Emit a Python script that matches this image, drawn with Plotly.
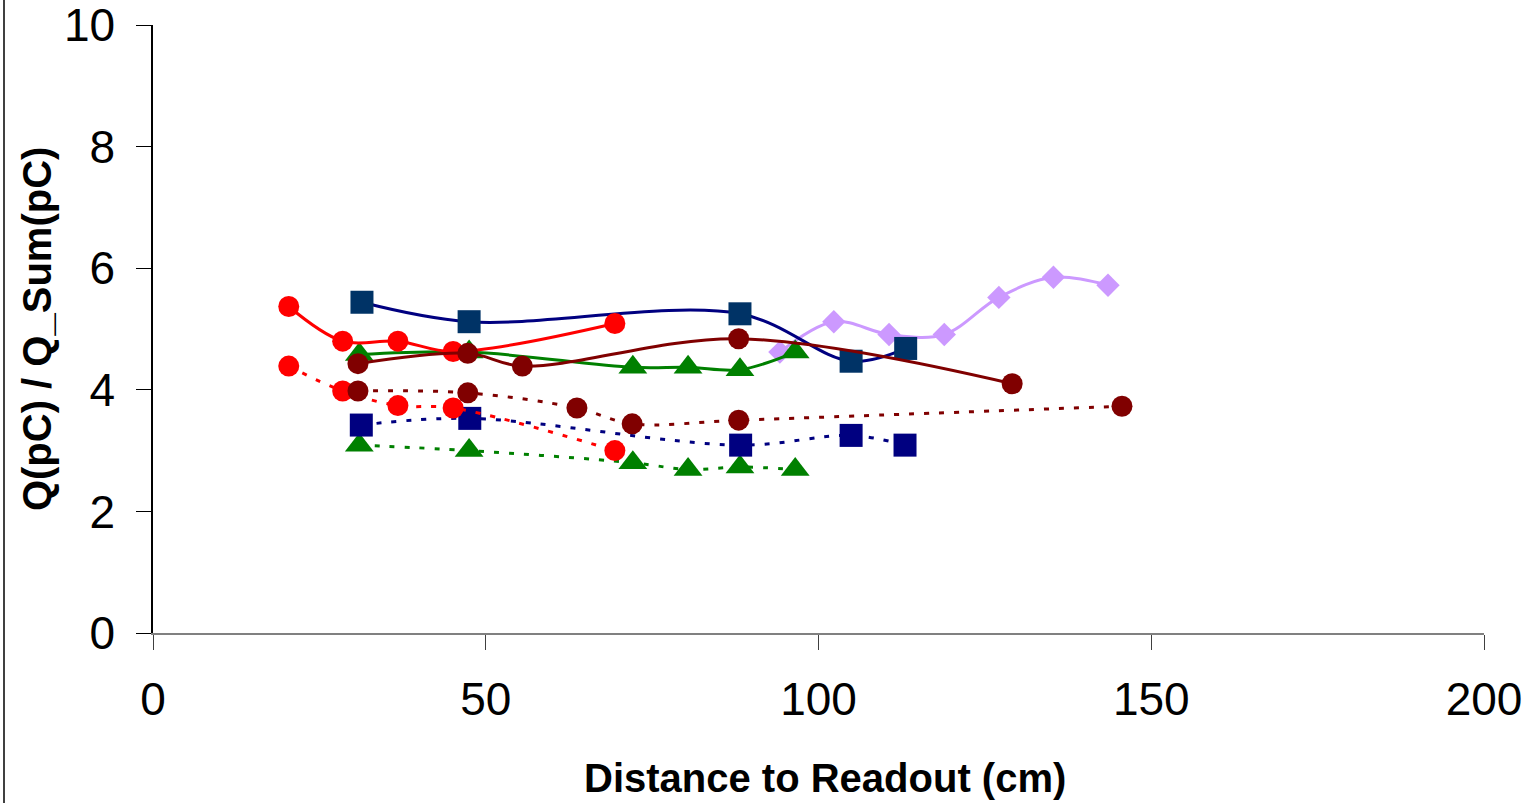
import plotly.graph_objects as go

# ---- data ----
blue_solid_x = [31.4, 47.5, 88.2, 104.9, 113.1]
blue_solid_y = [5.44, 5.12, 5.25, 4.47, 4.68]

red_solid_x = [20.4, 28.5, 36.8, 45.1, 69.4]
red_solid_y = [5.37, 4.80, 4.80, 4.63, 5.09]

green_solid_x = [31.0, 47.5, 72.1, 80.4, 88.2, 96.5]
green_solid_y = [4.58, 4.62, 4.37, 4.37, 4.33, 4.62]

maroon_solid_x = [30.8, 47.3, 55.5, 88.0, 129.1]
maroon_solid_y = [4.43, 4.60, 4.39, 4.84, 4.10]

pink_x = [94.2, 102.3, 110.6, 118.9, 127.1, 135.3, 143.5]
pink_y = [4.62, 5.12, 4.91, 4.91, 5.52, 5.85, 5.72]

red_dot_x = [20.4, 28.5, 36.8, 45.1, 69.4]
red_dot_y = [4.39, 3.98, 3.74, 3.70, 3.00]

maroon_dot_x = [30.8, 47.3, 63.7, 72.0, 88.0, 145.6]
maroon_dot_y = [3.98, 3.95, 3.70, 3.44, 3.50, 3.73]

blue_dot_x = [31.3, 47.6, 88.3, 104.9, 113.0]
blue_dot_y = [3.42, 3.53, 3.09, 3.25, 3.09]

green_dot_x = [31.0, 47.5, 72.1, 80.4, 88.2, 96.5]
green_dot_y = [3.09, 3.00, 2.80, 2.69, 2.73, 2.69]

x_ticks = [0, 50, 100, 150, 200]
y_ticks = [0, 2, 4, 6, 8, 10]

FONT = "Liberation Sans, Arial, sans-serif"
DOT = "5px,10px"

fig = go.Figure()


def add(x, y, line_color, marker_color, symbol, size, dash="solid"):
    fig.add_trace(go.Scatter(
        x=x, y=y, mode="lines+markers",
        line=dict(color=line_color, width=3, dash=dash, shape="spline", smoothing=1),
        marker=dict(color=marker_color, symbol=symbol, size=size, line=dict(width=0)),
        showlegend=False, hoverinfo="x+y",
    ))


add(pink_x, pink_y, "#CC99FF", "#CC99FF", "diamond", 18)
add(green_dot_x, green_dot_y, "#008000", "#008000", "triangle-up", 25, DOT)
add(blue_dot_x, blue_dot_y, "#000080", "#000080", "square", 23, DOT)
add(red_dot_x, red_dot_y, "#FF0000", "#FF0000", "circle", 21, DOT)
add(maroon_dot_x, maroon_dot_y, "#800000", "#800000", "circle", 21, DOT)
add(green_solid_x, green_solid_y, "#008000", "#008000", "triangle-up", 25)
add(blue_solid_x, blue_solid_y, "#000080", "#003366", "square", 23)
add(red_solid_x, red_solid_y, "#FF0000", "#FF0000", "circle", 21)
add(maroon_solid_x, maroon_solid_y, "#800000", "#800000", "circle", 21)

fig.update_layout(
    width=1533, height=803,
    margin=dict(l=153, r=49, t=25, b=170, autoexpand=False),
    paper_bgcolor="white", plot_bgcolor="white",
    font=dict(family=FONT, color="black"),
    xaxis=dict(
        range=[0, 200], tickvals=x_ticks, ticktext=[str(v) for v in x_ticks],
        showgrid=False, zeroline=False, showline=True, linecolor="#808080", linewidth=1.5,
        ticks="outside", ticklen=15, tickcolor="#404040", tickwidth=1.2,
        tickfont=dict(family=FONT, size=46, color="black"), ticklabelstandoff=10,
        ticklabeloverflow="allow", automargin=False,
    ),
    yaxis=dict(
        range=[0, 10], tickvals=y_ticks, ticktext=[str(v) for v in y_ticks],
        showgrid=False, zeroline=False, showline=True, linecolor="black", linewidth=1.5,
        ticks="outside", ticklen=15, tickcolor="black", tickwidth=1.2,
        tickfont=dict(family=FONT, size=46, color="black"), ticklabelstandoff=12,
        ticklabeloverflow="allow", automargin=False,
    ),
    annotations=[
        dict(text="<b>Distance to Readout (cm)</b>", xref="paper", yref="paper",
             x=0.505, y=-0.2385, xanchor="center", yanchor="middle", showarrow=False,
             font=dict(family=FONT, size=40, color="black")),
        dict(text="<b>Q(pC) / Q_Sum(pC)</b>", xref="paper", yref="paper",
             x=-0.0871, y=0.5, xanchor="center", yanchor="middle", showarrow=False,
             textangle=-90, font=dict(family=FONT, size=40, color="black")),
    ],
    shapes=[
        dict(type="line", xref="paper", yref="paper",
             x0=(4 - 153) / 1331, x1=(4 - 153) / 1331, y0=-0.3, y1=1.1,
             line=dict(color="black", width=1.5)),
    ],
)

fig.write_html("out.html")
